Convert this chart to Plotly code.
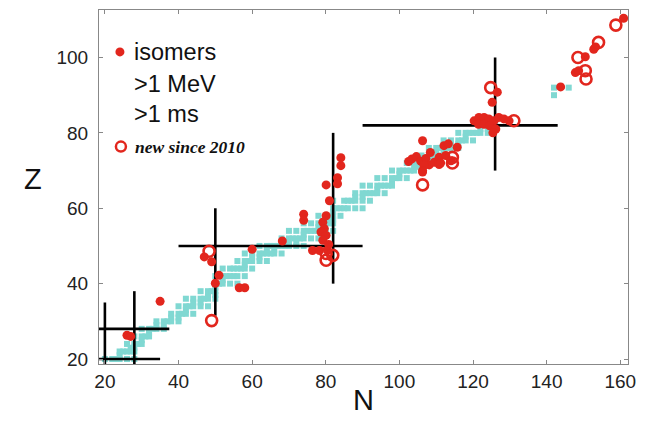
import plotly.graph_objects as go

# ---------------- data ----------------
# stable nuclides (cyan squares): neutron number N and proton number Z
stable_N = [
    20, 22, 23, 24, 26, 28,
    24,
    24, 25, 26, 27, 28,
    27, 28,
    26, 28, 29, 30,
    30,
    28, 30, 31, 32,
    32,
    30, 32, 33, 34, 36,
    34, 36,
    34, 36, 37, 38, 40,
    38, 40,
    38, 40, 41, 42, 44,
    42,
    40, 42, 43, 44, 46, 48,
    44, 46,
    42, 44, 46, 47, 48, 50,
    48, 50,
    46, 48, 49, 50,
    50,
    50, 51, 52, 54, 56,
    52,
    50, 52, 53, 54, 55, 56, 58,
    52, 54, 55, 56, 57, 58, 60,
    58,
    56, 58, 59, 60, 62, 64,
    60, 62,
    58, 60, 62, 63, 64, 65, 66, 68,
    64, 66,
    62, 64, 65, 66, 67, 68, 69, 70, 72, 74,
    70, 72,
    68, 70, 71, 72, 73, 74, 76, 78,
    74,
    70, 72, 74, 75, 76, 77, 78, 80, 82,
    78,
    74, 76, 78, 79, 80, 81, 82,
    81, 82,
    78, 80, 82, 84,
    82,
    82, 83, 84, 85, 86, 88, 90,
    82, 85, 86, 87, 88, 90, 92,
    88, 90,
    88, 90, 91, 92, 93, 94, 96,
    94,
    90, 92, 94, 95, 96, 97, 98,
    98,
    94, 96, 98, 99, 100, 102,
    100,
    98, 100, 101, 102, 103, 104, 106,
    104, 105,
    102, 104, 105, 106, 107, 108,
    107, 108,
    106, 108, 109, 110, 112,
    110, 112,
    108, 110, 111, 112, 113, 114, 116,
    114, 116,
    112, 114, 116, 117, 118, 120,
    118,
    116, 118, 119, 120, 121, 122, 124,
    122, 124,
    122, 124, 125, 126,
    126,
    142,
    142, 146,
]
stable_Z = [
    20, 20, 20, 20, 20, 20,
    21,
    22, 22, 22, 22, 22,
    23, 23,
    24, 24, 24, 24,
    25,
    26, 26, 26, 26,
    27,
    28, 28, 28, 28, 28,
    29, 29,
    30, 30, 30, 30, 30,
    31, 31,
    32, 32, 32, 32, 32,
    33,
    34, 34, 34, 34, 34, 34,
    35, 35,
    36, 36, 36, 36, 36, 36,
    37, 37,
    38, 38, 38, 38,
    39,
    40, 40, 40, 40, 40,
    41,
    42, 42, 42, 42, 42, 42, 42,
    44, 44, 44, 44, 44, 44, 44,
    45,
    46, 46, 46, 46, 46, 46,
    47, 47,
    48, 48, 48, 48, 48, 48, 48, 48,
    49, 49,
    50, 50, 50, 50, 50, 50, 50, 50, 50, 50,
    51, 51,
    52, 52, 52, 52, 52, 52, 52, 52,
    53,
    54, 54, 54, 54, 54, 54, 54, 54, 54,
    55,
    56, 56, 56, 56, 56, 56, 56,
    57, 57,
    58, 58, 58, 58,
    59,
    60, 60, 60, 60, 60, 60, 60,
    62, 62, 62, 62, 62, 62, 62,
    63, 63,
    64, 64, 64, 64, 64, 64, 64,
    65,
    66, 66, 66, 66, 66, 66, 66,
    67,
    68, 68, 68, 68, 68, 68,
    69,
    70, 70, 70, 70, 70, 70, 70,
    71, 71,
    72, 72, 72, 72, 72, 72,
    73, 73,
    74, 74, 74, 74, 74,
    75, 75,
    76, 76, 76, 76, 76, 76, 76,
    77, 77,
    78, 78, 78, 78, 78, 78,
    79,
    80, 80, 80, 80, 80, 80, 80,
    81, 81,
    82, 82, 82, 82,
    83,
    90,
    92, 92,
]

# isomers >1 MeV, >1 ms (filled red dots)
iso_N = [26, 27, 35, 47, 49, 51, 50, 56.5, 58, 60, 68.2,
         74, 74, 76.4, 78.3, 80.5, 79.2, 79.6, 78.7, 80.1, 79.2, 80.8, 80.1,
         81, 80.1, 83.2, 83.2, 84.1, 84.1,
         102.5, 103.4, 104.6, 105.8, 107.2, 108.4, 108.1, 106.7, 106.3, 106.3,
         109.5, 110.8, 110.8, 111.2, 112.1, 113.3, 115.7, 112.6, 114, 106.3,
         120.3, 121.6, 123, 124.3, 125.7, 127, 128.4, 129.8,
         121.5, 123, 124.5, 126.2, 125.4, 125.2, 126.6,
         143.8, 147.8, 148.7, 150.5, 152.8, 153.3, 160.9]
iso_Z = [26.3, 26.0, 35.3, 47.1, 45.8, 42.2, 40.1, 38.9, 38.9, 49.1, 51.3,
         58.4, 56.8, 48.8, 48.8, 48.8, 56.3, 54.6, 53.7, 52.8, 51.5, 50.4, 58.0,
         62.0, 66.2, 68.1, 66.5, 73.4, 71.3,
         72.4, 73.1, 73.7, 72.5, 73.2, 74.8, 71.5, 71.4, 70.0, 69.6,
         72.2, 73.5, 71.6, 72.0, 76.6, 77.1, 76.2, 74.0, 72.6, 77.9,
         83.2, 84.1, 84.1, 83.7, 83.2, 84.1, 83.7, 83.2,
         82.3, 82.3, 81.9, 81.0, 80.0, 88.1, 90.8,
         92.2, 96.0, 96.5, 100.2, 102.2, 102.8, 110.4]

# new since 2010 (open red circles)
new_N = [48.3, 49, 80.1, 80.1, 81.9, 106.3, 114.4, 114.4, 124.8, 131.1,
         148.5, 150.5, 150.7, 154.1, 158.8]
new_Z = [48.6, 30.2, 48.0, 46.2, 47.5, 66.2, 73.5, 72.0, 92.0, 83.2,
         100.0, 96.5, 94.3, 104.0, 108.6]

# magic-number guide lines
hline_Z = [20, 28, 50, 82]
hline_N0 = [5, 5, 40, 90]
hline_N1 = [35, 37.5, 90, 143]
vline_N = [20, 28, 50, 82, 126]
vline_Z0 = [5, 5, 31.5, 40, 70]
vline_Z1 = [35, 38, 60, 80, 100]

x_ticks = [20, 40, 60, 80, 100, 120, 140, 160]
y_ticks = [20, 40, 60, 80, 100]

# ---------------- figure ----------------
CYAN = "#80d8d2"
RED = "#e2261d"

fig = go.Figure()
fig.add_trace(go.Scatter(x=stable_N, y=stable_Z, mode="markers",
                         marker=dict(symbol="square", size=6, color=CYAN,
                                     line=dict(width=0)),
                         hoverinfo="skip"))
for z, n0, n1 in zip(hline_Z, hline_N0, hline_N1):
    fig.add_trace(go.Scatter(x=[n0, n1], y=[z, z], mode="lines",
                             line=dict(color="black", width=2.6)))
for n, z0, z1 in zip(vline_N, vline_Z0, vline_Z1):
    fig.add_trace(go.Scatter(x=[n, n], y=[z0, z1], mode="lines",
                             line=dict(color="black", width=2.6)))
fig.add_trace(go.Scatter(x=iso_N, y=iso_Z, mode="markers",
                         marker=dict(symbol="circle", size=9, color=RED,
                                     line=dict(width=0))))
fig.add_trace(go.Scatter(x=new_N, y=new_Z, mode="markers",
                         marker=dict(symbol="circle-open", size=11, color=RED,
                                     line=dict(width=2.6, color=RED))))

L, R, T, B = 99, 15, 9, 59
W, H = 645, 423
pw, ph = W - L - R, H - T - B


def px(x):
    return (x - L) / pw


def py(y):
    return (H - B - y) / ph


axis_common = dict(showline=True, linecolor="#888888", linewidth=1,
                   mirror="allticks", ticks="inside", ticklen=4,
                   tickcolor="#888888", showgrid=False, zeroline=False,
                   tickfont=dict(family="Liberation Sans, Arial", size=19,
                                 color="#222222"))
fig.update_xaxes(range=[18.4, 162.1], tickvals=x_ticks, **axis_common)
fig.update_yaxes(range=[18.68, 112.6], tickvals=y_ticks,
                 ticklabelstandoff=6, **axis_common)

ann = []
font_leg = dict(family="Liberation Sans, Arial", size=23.5, color="#111111")
for txt, yy in [("isomers", 51), (">1 MeV", 83), (">1 ms", 113)]:
    ann.append(dict(x=px(132), y=py(yy), xref="paper", yref="paper",
                    text=txt, showarrow=False, xanchor="left",
                    yanchor="middle", font=font_leg))
ann.append(dict(x=px(133), y=py(146), xref="paper", yref="paper",
                text="<b><i>new since 2010</i></b>", showarrow=False,
                xanchor="left", yanchor="middle",
                font=dict(family="Liberation Serif, Times New Roman",
                          size=17.5, color="#111111")))
ann.append(dict(x=px(365), y=py(400), xref="paper", yref="paper", text="N",
                showarrow=False, xanchor="center", yanchor="middle",
                font=dict(family="Liberation Sans, Arial", size=29,
                          color="#111111")))
ann.append(dict(x=px(33), y=py(178), xref="paper", yref="paper", text="Z",
                showarrow=False, xanchor="center", yanchor="middle",
                font=dict(family="Liberation Sans, Arial", size=29,
                          color="#111111")))

shapes = [
    dict(type="circle", xref="paper", yref="paper", xsizemode="pixel",
         ysizemode="pixel", xanchor=px(120), yanchor=py(51),
         x0=-4.5, x1=4.5, y0=-4.5, y1=4.5, fillcolor=RED,
         line=dict(width=0)),
    dict(type="circle", xref="paper", yref="paper", xsizemode="pixel",
         ysizemode="pixel", xanchor=px(121), yanchor=py(146),
         x0=-5, x1=5, y0=-5, y1=5, fillcolor="rgba(0,0,0,0)",
         line=dict(width=2.5, color=RED)),
]

fig.update_layout(width=W, height=H, margin=dict(l=L, r=R, t=T, b=B),
                  paper_bgcolor="white", plot_bgcolor="white",
                  showlegend=False, annotations=ann, shapes=shapes)

fig.write_html("out.html")
